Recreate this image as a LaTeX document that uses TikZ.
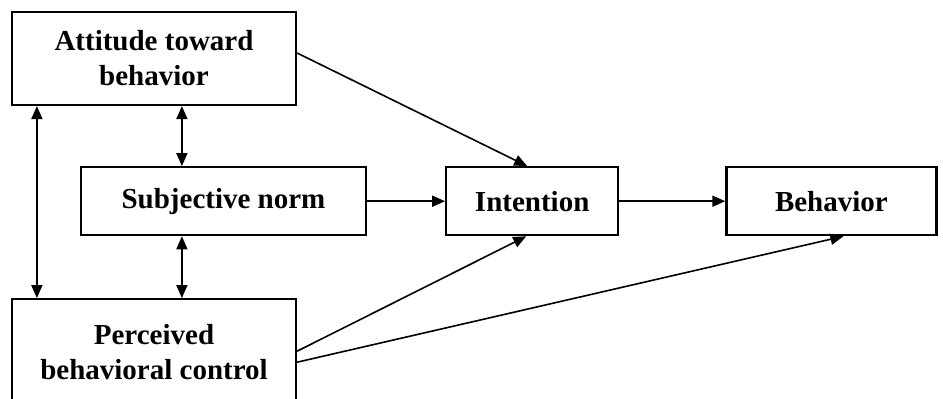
\documentclass[tikz,border=0pt]{standalone}
\usepackage{fontspec}
\setmainfont{Liberation Serif}
\usepackage{tikz}
\usetikzlibrary{positioning,arrows.meta}
\tikzset{
  box/.style     = {draw, line width=2.2pt, align=center, inner sep=0pt,
                    font=\bfseries\fontsize{29}{35}\selectfont},
  widebox/.style = {box, minimum width=284pt, minimum height=93pt},
  normbox/.style = {box, minimum width=285pt, minimum height=68pt},
  intbox/.style  = {box, minimum width=172pt, minimum height=68pt},
  behbox/.style  = {box, minimum width=210pt, minimum height=68pt},
  arrow/.style   = {-{Triangle[length=13pt,width=11pt]}, line width=1.6pt},
  dblarrow/.style = {{Triangle[length=13pt,width=11pt]}-{Triangle[length=13pt,width=11pt]},
                     line width=1.6pt},
}
\begin{document}
\begin{tikzpicture}[x=1pt, y=-1pt]
  \useasboundingbox (0,0) rectangle (943,399);
  \clip (0,0) rectangle (943,399);

  \node[widebox] (att) at (154,58.5) {Attitude toward\\ behavior};
  \node[normbox, below=60pt of att, xshift=69.5pt] (subj) {Subjective norm};
  \node[intbox, right=78pt of subj] (int) {Intention};
  \node[behbox, right=106pt of int] (beh) {Behavior};
  \node[widebox, minimum height=106pt, below=192pt of att] (per) {Perceived\\ behavioral control};

  \draw[arrow] ([yshift=5.5pt]att.east) -- ([xshift=-5pt]int.north);
  \draw[arrow] (subj) -- (int);
  \draw[arrow] (int) -- (beh);
  \draw[arrow] ([yshift=1pt]per.east) -- ([xshift=-6pt]int.south);
  \draw[arrow] ([yshift=-10pt]per.east) -- ([xshift=12pt]beh.south);

  \coordinate (l) at ([xshift=26pt]att.south west);
  \coordinate (m) at ([xshift=171pt]att.south west);
  \draw[dblarrow] (l) -- (l |- per.north);
  \draw[dblarrow] (m) -- (m |- subj.north);
  \draw[dblarrow] (m |- subj.south) -- (m |- per.north);
\end{tikzpicture}
\end{document}
